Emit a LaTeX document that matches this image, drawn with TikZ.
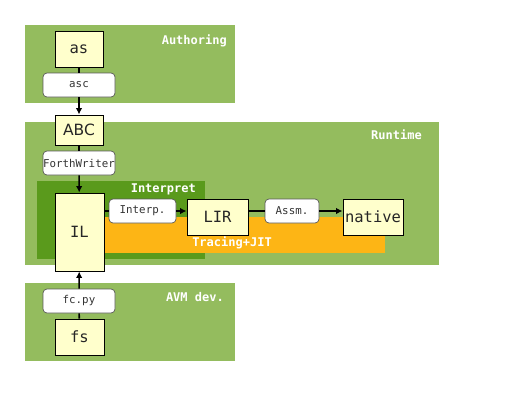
\documentclass[tikz,border=0pt]{standalone}
\usepackage{fontspec}
\setmainfont{DejaVu Sans}
\setmonofont{DejaVu Sans Mono}
\usetikzlibrary{arrows.meta,positioning}
\definecolor{areagreen}{HTML}{94BC5E}
\definecolor{darkgreen}{HTML}{5A9A1C}
\definecolor{jitorange}{HTML}{FDB515}
\definecolor{stagefill}{HTML}{FFFFCC}
\begin{document}
\begin{tikzpicture}[x=1pt,y=-1pt,
      area/.style={fill=areagreen,anchor=north west,inner sep=0pt},
      arealabel/.style={text=white,anchor=north east,inner sep=0pt,font=\ttfamily\bfseries\fontsize{12}{14}\selectfont},
      stage/.style={draw=black,fill=stagefill,inner sep=0pt,line width=0.9pt,text=black!85,font=\ttfamily\fontsize{15.5}{18}\selectfont},
      tool/.style={draw=black!65,fill=white,rounded corners=4pt,inner sep=0pt,line width=0.7pt,
        minimum height=24,text=black!80,font=\ttfamily\fontsize{10.8}{12}\selectfont},
      flow/.style={line width=1.6pt,-{Latex[length=6.5pt,width=6.5pt]}},
      link/.style={line width=1.6pt}]

      \useasboundingbox (0,0) rectangle (528,408);

      % areas
      \node[area,minimum width=210,minimum height=78] (authoring) at (25,25) {};
      \node[area,minimum width=414,minimum height=143] (runtime) at (25,122) {};
      \node[area,minimum width=210,minimum height=78] (avmdev) at (25,283) {};
      \node[area,fill=darkgreen,minimum width=168,minimum height=78] (interpret) at (37,181) {};
      \node[area,fill=jitorange,minimum width=281,minimum height=36] (tracing) at (104,217) {};

      \node[arealabel] (authoringlabel) at (227,35) {Authoring};
      \node[arealabel] (runtimelabel) at (422,130) {Runtime};
      \node[arealabel] (avmdevlabel) at (224,292) {AVM dev.};
      \node[arealabel] (interpretlabel) at (196,184) {Interpret};
      \node[arealabel,anchor=north] (tracinglabel) at (232,237) {Tracing+JIT};

      % stages
      \node[stage,minimum width=48,minimum height=36] (as) at (79,49) {as};
      \node[stage,minimum width=48,minimum height=30,font=\rmfamily\fontsize{15.5}{18}\selectfont] (ABC) at (79,130) {ABC};
      \node[stage,minimum width=49,minimum height=78] (IL) at (79.5,232) {IL};
      \node[stage,minimum width=61,minimum height=36] (LIR) at (217.5,217) {LIR};
      \node[stage,minimum width=60,minimum height=36] (native) at (373,217) {native};
      \node[stage,minimum width=49,minimum height=36] (fs) at (79.5,337) {fs};

      % tools
      \node[tool,minimum width=72] (asc) at (79,85) {asc};
      \node[tool,minimum width=72] (forthwriter) at (79,163) {ForthWriter};
      \node[tool,minimum width=72] (fcpy) at (79,301) {fc.py};
      \node[tool,minimum width=67] (interp) at (142.5,211) {Interp.};
      \node[tool,minimum width=54] (assm) at (292,211) {Assm.};

      \path (as) edge[link] (asc)
            (asc) edge[flow] (ABC)
            (ABC) edge[link] (forthwriter)
            (forthwriter) edge[flow] (IL)
            (fs) edge[link] (fcpy)
            (fcpy) edge[flow] (IL)
            (IL.east |- interp.west) edge[link] (interp)
            (interp) edge[flow] (LIR.west |- interp.east)
            (LIR.east |- assm.west) edge[link] (assm)
            (assm) edge[flow] (native.west |- assm.east);
    \end{tikzpicture}
\end{document}
